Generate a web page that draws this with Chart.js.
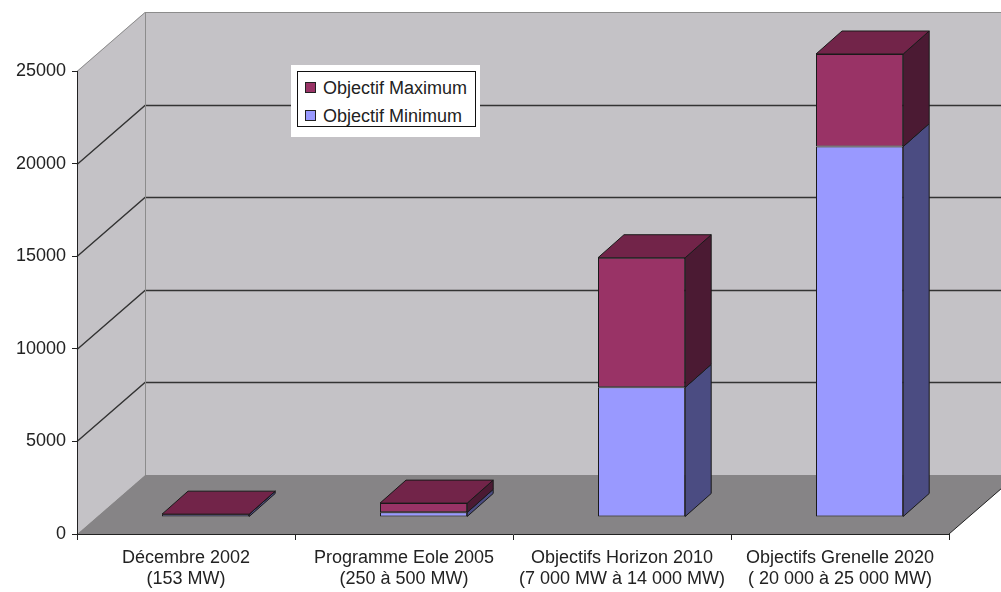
<!DOCTYPE html>
<html>
<head>
<meta charset="utf-8">
<script src="https://cdn.jsdelivr.net/npm/chart.js@4/dist/chart.umd.min.js"></script>
<style>
  body { margin: 0; background: #fff; }
  #wrap { position: relative; width: 1001px; height: 592px; }
  #legend { position: absolute; left: 291px; top: 65px; width: 189px; height: 72px; background: #fff;
            font: 18px "Liberation Sans", Arial, sans-serif; color: #222; }
  #legend .box { position: absolute; left: 6px; top: 6px; width: 179px; height: 56px; border: 1px solid #111; box-sizing: border-box; }
  #legend .item { position: absolute; left: 0; height: 22px; line-height: 22px; white-space: nowrap; }
  #legend .swatch { position: absolute; left: 7px; top: 5px; width: 11px; height: 11px; border: 1px solid #222; box-sizing: border-box; }
  #legend .label { position: absolute; left: 25px; top: 0; }
</style>
</head>
<body>
<div id="wrap">
  <canvas id="chart" width="1001" height="592"></canvas>
  <div id="legend"><div class="box"></div></div>
</div>
<script>
// data
const categories = [
    ['Décembre 2002', '(153 MW)'],
    ['Programme Eole 2005', '(250 à 500 MW)'],
    ['Objectifs Horizon 2010', '(7 000 MW à 14 000 MW)'],
    ['Objectifs Grenelle 2020', '( 20 000 à 25 000 MW)']
];
const objectifMinimum = [153, 250, 7000, 20000];
const objectifMaximum = [0, 500, 7000, 5000];
const yMin = 0, yMax = 25000, yStep = 5000;

// 3d look
const DEPTH_X = 68, DEPTH_Y = 59;       // wall depth
const SHIFT_X = 19.6, SHIFT_Y = 17;     // bars sit a bit back on the floor
const BAR_DX = 26, BAR_DY = 23;         // bar depth
const frontColors = ['#9999ff', '#993366'];
const sideColors = ['#4b4c82', '#4b1a33'];
const topColors = ['#6e6fbf', '#722449'];

function poly(ctx, pts, fill, stroke) {
    ctx.beginPath();
    pts.forEach((p, i) => i ? ctx.lineTo(p[0], p[1]) : ctx.moveTo(p[0], p[1]));
    ctx.closePath();
    if (fill) { ctx.fillStyle = fill; ctx.fill(); }
    if (stroke) { ctx.strokeStyle = stroke; ctx.stroke(); }
}

const walls = {
    id: 'walls',
    beforeDraw(chart) {
        const { ctx, chartArea: a, scales: { y } } = chart;
        const W = chart.width;
        const bx = a.left + DEPTH_X;
        ctx.save();
        // back wall + left wall
        ctx.fillStyle = '#c4c2c6';
        ctx.fillRect(bx, a.top - DEPTH_Y, W, a.bottom - a.top);
        poly(ctx, [[a.left, a.bottom], [a.left, a.top], [bx, a.top - DEPTH_Y], [bx, a.bottom - DEPTH_Y]], '#c4c2c6');
        // floor
        poly(ctx, [[a.left, a.bottom], [bx, a.bottom - DEPTH_Y], [a.right + DEPTH_X, a.bottom - DEPTH_Y], [a.right, a.bottom]], '#868486');
        ctx.lineWidth = 1;
        ctx.strokeStyle = '#222';
        ctx.beginPath();
        ctx.moveTo(a.right, a.bottom);
        ctx.lineTo(a.right + DEPTH_X, a.bottom - DEPTH_Y);
        ctx.stroke();
        // gridlines
        y.ticks.forEach(t => {
            if (t.value === yMin) return;
            const py = Math.round(y.getPixelForValue(t.value)) + 0.5;
            ctx.strokeStyle = t.value === yMax ? '#8c8c8c' : '#333';
            ctx.lineWidth = t.value === yMax ? 1 : 1.4;
            ctx.beginPath();
            ctx.moveTo(a.left, py);
            ctx.lineTo(bx, py - DEPTH_Y);
            ctx.lineTo(W, py - DEPTH_Y);
            ctx.stroke();
        });
        // back wall corner
        ctx.strokeStyle = '#8c8c8c';
        ctx.lineWidth = 1;
        ctx.beginPath();
        ctx.moveTo(bx + 0.5, a.top - DEPTH_Y);
        ctx.lineTo(bx + 0.5, a.bottom - DEPTH_Y);
        ctx.stroke();
        ctx.restore();
    }
};

const bars3d = {
    id: 'bars3d',
    beforeDatasetsDraw(chart) {
        chart.ctx.save();
        chart.ctx.translate(SHIFT_X, -SHIFT_Y);
    },
    afterDatasetsDraw(chart) {
        const ctx = chart.ctx;
        const last = chart.data.datasets.length - 1;
        ctx.lineWidth = 1;
        chart.data.datasets.forEach((ds, d) => {
            chart.getDatasetMeta(d).data.forEach(bar => {
                const { x, y, base, width } = bar.getProps(['x', 'y', 'base', 'width'], true);
                const l = x - width / 2, r = x + width / 2;
                poly(ctx, [[r, y], [r + BAR_DX, y - BAR_DY], [r + BAR_DX, base - BAR_DY], [r, base]], sideColors[d], '#1a1a1a');
                if (d === last) {
                    poly(ctx, [[l, y], [l + BAR_DX, y - BAR_DY], [r + BAR_DX, y - BAR_DY], [r, y]], topColors[d], '#1a1a1a');
                }
            });
        });
        ctx.restore();
    }
};

const font = { family: '"Liberation Sans", Arial, sans-serif', size: 18 };

const chart = new Chart(document.getElementById('chart'), {
    type: 'bar',
    data: {
        labels: categories,
        datasets: [{
            label: 'Objectif Minimum',
            data: objectifMinimum,
            backgroundColor: frontColors[0],
            borderColor: '#1a1a1a',
            borderWidth: 1,
            borderSkipped: false,
            clip: false
        }, {
            label: 'Objectif Maximum',
            data: objectifMaximum,
            backgroundColor: frontColors[1],
            borderColor: '#1a1a1a',
            borderWidth: 1,
            borderSkipped: false,
            clip: false
        }]
    },
    options: {
        responsive: false,
        animation: false,
        barPercentage: 0.4,
        categoryPercentage: 1,
        layout: { padding: { top: 71, right: 52, left: 0, bottom: 0 } },
        plugins: { legend: { display: false }, tooltip: { enabled: false } },
        scales: {
            x: {
                stacked: true,
                afterFit: s => { s.height = 58; },
                grid: { drawOnChartArea: false, tickLength: 6, color: '#222' },
                border: { color: '#222' },
                ticks: { color: '#222', font: font, padding: 7, maxRotation: 0 }
            },
            y: {
                stacked: true,
                min: yMin,
                max: yMax,
                afterFit: s => { s.width = 77; },
                grid: { drawOnChartArea: false, tickLength: 5, color: '#222' },
                border: { color: '#222' },
                ticks: { stepSize: yStep, color: '#222', font: font, padding: 6, callback: v => String(v) }
            }
        }
    },
    plugins: [walls, bars3d]
});

// legend, top series first
const box = document.querySelector('#legend .box');
chart.data.datasets.slice().reverse().forEach((ds, i) => {
    const item = document.createElement('div');
    item.className = 'item';
    item.style.top = (5 + i * 28) + 'px';
    item.innerHTML = '<span class="swatch"></span><span class="label"></span>';
    item.querySelector('.swatch').style.background = ds.backgroundColor;
    item.querySelector('.label').textContent = ds.label;
    box.appendChild(item);
});
</script>
</body>
</html>
